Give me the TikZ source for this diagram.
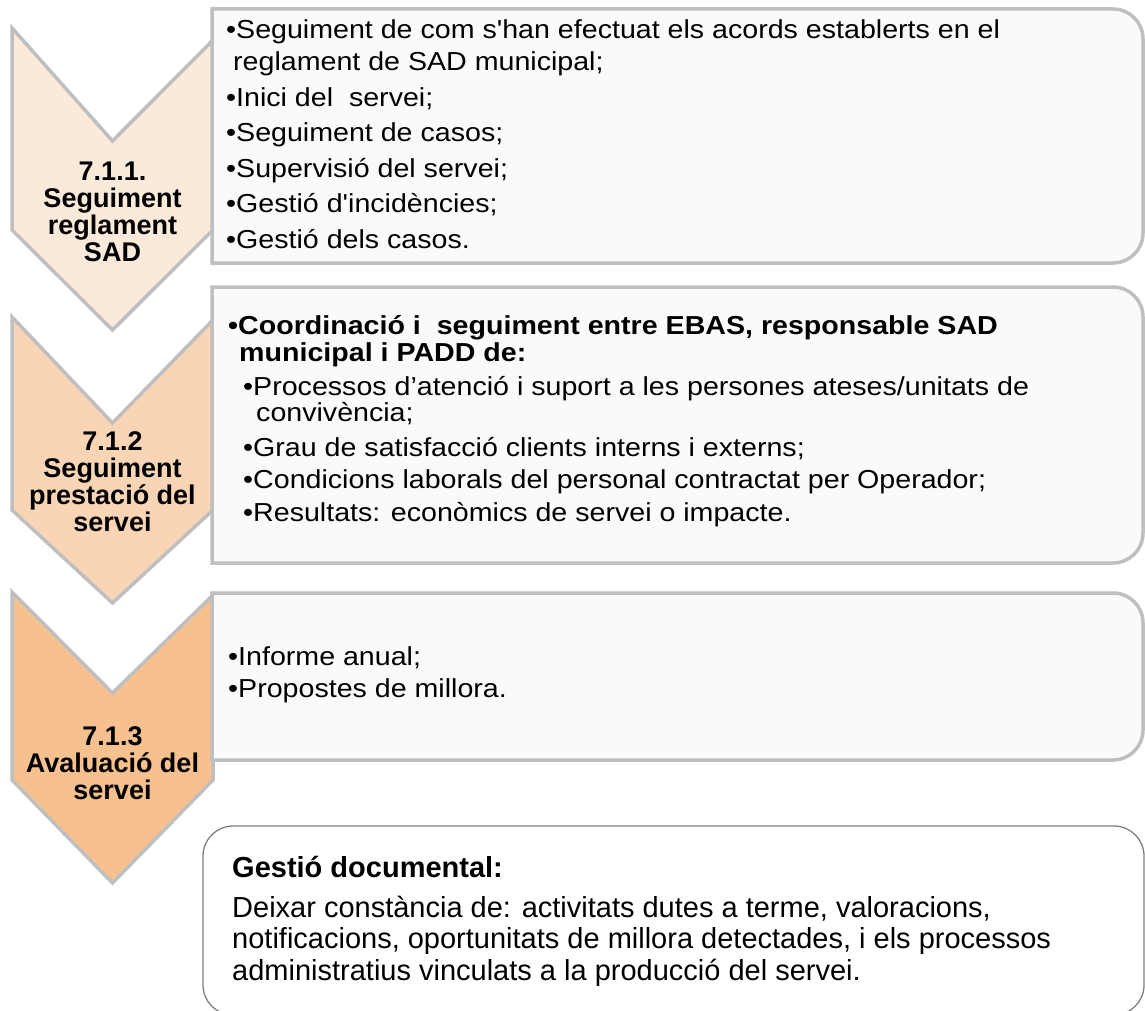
\documentclass[tikz,border=0pt]{standalone}
\usepackage{fontspec}
\setmainfont{Liberation Sans}
\newfontfamily\listface[FakeStretch=1.1]{Liberation Sans}

\definecolor{chevA}{HTML}{FBE9DA}
\definecolor{chevB}{HTML}{F9D5B6}
\definecolor{chevC}{HTML}{F7C08F}
\definecolor{rimgray}{HTML}{BFBFBF}
\definecolor{panelfill}{HTML}{FAFAFA}
\definecolor{notegray}{HTML}{808080}

% multi-line nodes are anchored at the baseline of their last line
\tikzset{
  chevron/.style={draw=rimgray, line width=3.5pt, line join=miter},
  panel/.style={draw=rimgray, line width=3.5pt, fill=panelfill},
  notebox/.style={draw=notegray, line width=1.3pt, fill=white, rounded corners=30pt},
  stagelabel/.style={anchor=base, align=center, inner sep=0pt,
    font=\bfseries\fontsize{27}{26.7}\selectfont},
  listtext/.style={anchor=base west, align=left, inner sep=0pt,
    font=\listface\fontsize{26}{32}\selectfont},
  notetext/.style={anchor=base west, align=left, inner sep=0pt,
    font=\fontsize{29}{31.5}\selectfont}
}

\begin{document}
\begin{tikzpicture}[x=1pt, y=-1pt]
\useasboundingbox (0,0) rectangle (1145,1011);

% stage chevrons
\draw[chevron, fill=chevA] (12,28) -- (112.5,141) -- (213,40) -- (213,230) -- (112.5,330) -- (12,230) -- cycle;
\draw[chevron, fill=chevB] (12,317) -- (112.5,423) -- (213,320) -- (213,510) -- (112.5,603) -- (12,510) -- cycle;
\draw[chevron, fill=chevC] (12,592) -- (112.5,693) -- (213,595) -- (213,780) -- (112.5,883) -- (12,780) -- cycle;

\node[stagelabel] (s1) at (112.5,261) {7.1.1.\\Seguiment\\reglament\\SAD};
\node[stagelabel] (s2) at (112.5,531) {7.1.2\\Seguiment\\prestació del\\servei};
\node[stagelabel] (s3) at (112.5,799) {7.1.3\\Avaluació del\\servei};

% content panels, square on the left and rounded on the right
\draw[panel] (212,263) -- (212,9) -- (1113,9) .. controls (1129.6,9) and (1143,22.4) .. (1143,39)
  -- (1143,233) .. controls (1143,249.6) and (1129.6,263) .. (1113,263) -- cycle;
\draw[panel] (212,563) -- (212,287) -- (1113,287) .. controls (1129.6,287) and (1143,300.4) .. (1143,317)
  -- (1143,533) .. controls (1143,549.6) and (1129.6,563) .. (1113,563) -- cycle;
\draw[panel] (212,760) -- (212,593) -- (1113,593) .. controls (1129.6,593) and (1143,606.4) .. (1143,623)
  -- (1143,730) .. controls (1143,746.6) and (1129.6,760) .. (1113,760) -- cycle;

\node[listtext] (p1) at (226,248) {%
  •Seguiment de com s'han efectuat els acords establerts en el\\
  \hspace*{7pt}reglament de SAD municipal;\\[3.5pt]
  •Inici del\ \ servei;\\[3.5pt]
  •Seguiment de casos;\\[3.5pt]
  •Supervisió del servei;\\[3.5pt]
  •Gestió d'incidències;\\[3.5pt]
  •Gestió dels casos.};

\node[listtext, font=\listface\bfseries\fontsize{26}{27}\selectfont] (p2a) at (228,361) {%
  •Coordinació i\ \ seguiment entre EBAS, responsable SAD\\
  \hspace*{11pt}municipal i PADD de:};
\node[listtext] (p2b) at (243,521) {%
  •Processos d’atenció i suport a les persones ateses/unitats de\\[-6pt]
  \hspace*{13pt}convivència;\\[3pt]
  •Grau de satisfacció clients interns i externs;\\
  •Condicions laborals del personal contractat per Operador;\\[1pt]
  •Resultats: econòmics de servei o impacte.};

\node[listtext] (p3) at (228,697) {%
  •Informe anual;\\
  •Propostes de millora.};

% document management note
\draw[notebox] (203,826) rectangle (1144,1015);
\node[notetext] (n1) at (232,980) {%
  \textbf{Gestió documental:}\\[8.5pt]
  Deixar constància de: activitats dutes a terme, valoracions,\\
  notificacions, oportunitats de millora detectades, i els processos\\
  administratius vinculats a la producció del servei.};
\end{tikzpicture}
\end{document}
